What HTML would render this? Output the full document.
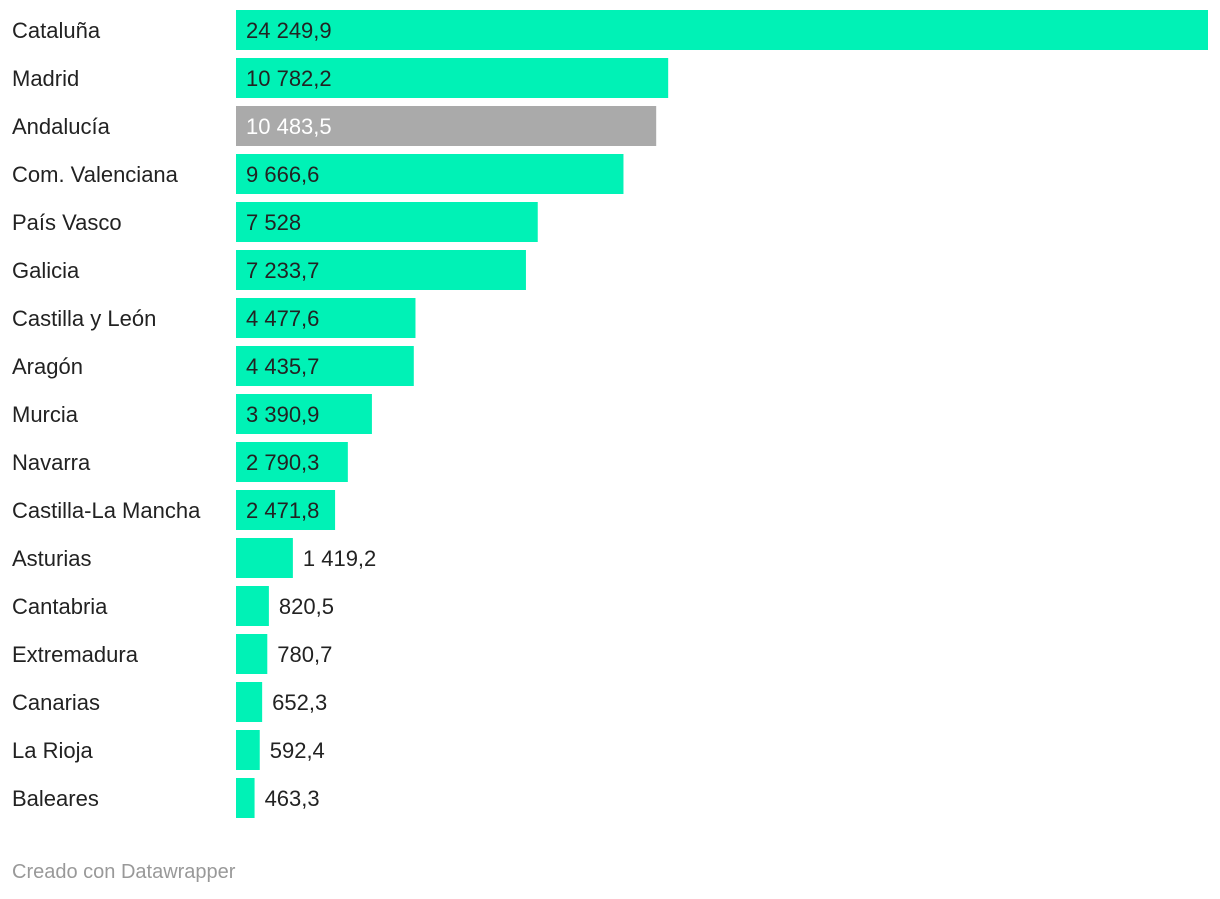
<!DOCTYPE html>
<html><head><meta charset="utf-8">
<style>
body{margin:0;background:#fff;width:1220px;height:894px;overflow:hidden;font-family:"Liberation Sans",sans-serif;}
svg text{font-family:"Liberation Sans",sans-serif;}
</style></head>
<body>
<svg id="chart" width="1220" height="894" xmlns="http://www.w3.org/2000/svg">
<text x="12" y="878" font-size="20" fill="#999">Creado con Datawrapper</text>
</svg>
<script>
const categories = ["Cataluña","Madrid","Andalucía","Com. Valenciana","País Vasco","Galicia","Castilla y León","Aragón","Murcia","Navarra","Castilla-La Mancha","Asturias","Cantabria","Extremadura","Canarias","La Rioja","Baleares"];
const values = [24249.9,10782.2,10483.5,9666.6,7528,7233.7,4477.6,4435.7,3390.9,2790.3,2471.8,1419.2,820.5,780.7,652.3,592.4,463.3];
const labels = ["24 249,9","10 782,2","10 483,5","9 666,6","7 528","7 233,7","4 477,6","4 435,7","3 390,9","2 790,3","2 471,8","1 419,2","820,5","780,7","652,3","592,4","463,3"];
const highlighted = ["Andalucía"];

const svg = document.getElementById('chart');
const NS = 'http://www.w3.org/2000/svg';
const x0 = 236, x1 = 1208, top0 = 10, pitch = 48, barH = 40;
const maxV = Math.max(...values);
const xScale = v => v / maxV * (x1 - x0);
const yScale = i => top0 + i * pitch;

categories.forEach((c, i) => {
  const y = yScale(i);
  const w = xScale(values[i]);
  const hl = highlighted.includes(c);
  const t = document.createElementNS(NS, 'text');
  
  
  t.setAttribute('x', 12); t.setAttribute('y', y + 28);
  t.setAttribute('font-size', '22'); t.setAttribute('fill', '#222');
  t.textContent = c; svg.appendChild(t);
  const r = document.createElementNS(NS, 'rect');
  
  
  r.setAttribute('x', x0); r.setAttribute('y', y);
  r.setAttribute('width', w); r.setAttribute('height', barH);
  r.setAttribute('fill', hl ? '#aaaaaa' : '#00f2b6');
  svg.appendChild(r);
  const v = document.createElementNS(NS, 'text');
  
  
  const tw = labels[i].length * 11.2;
  const inside = w > tw + 16;
  v.setAttribute('x', inside ? x0 + 10 : x0 + w + 10);
  v.setAttribute('y', y + 28);
  v.setAttribute('font-size', '22');
  v.setAttribute('fill', inside && hl ? '#fff' : '#222');
  v.textContent = labels[i]; svg.appendChild(v);
});
</script>
</body></html>
